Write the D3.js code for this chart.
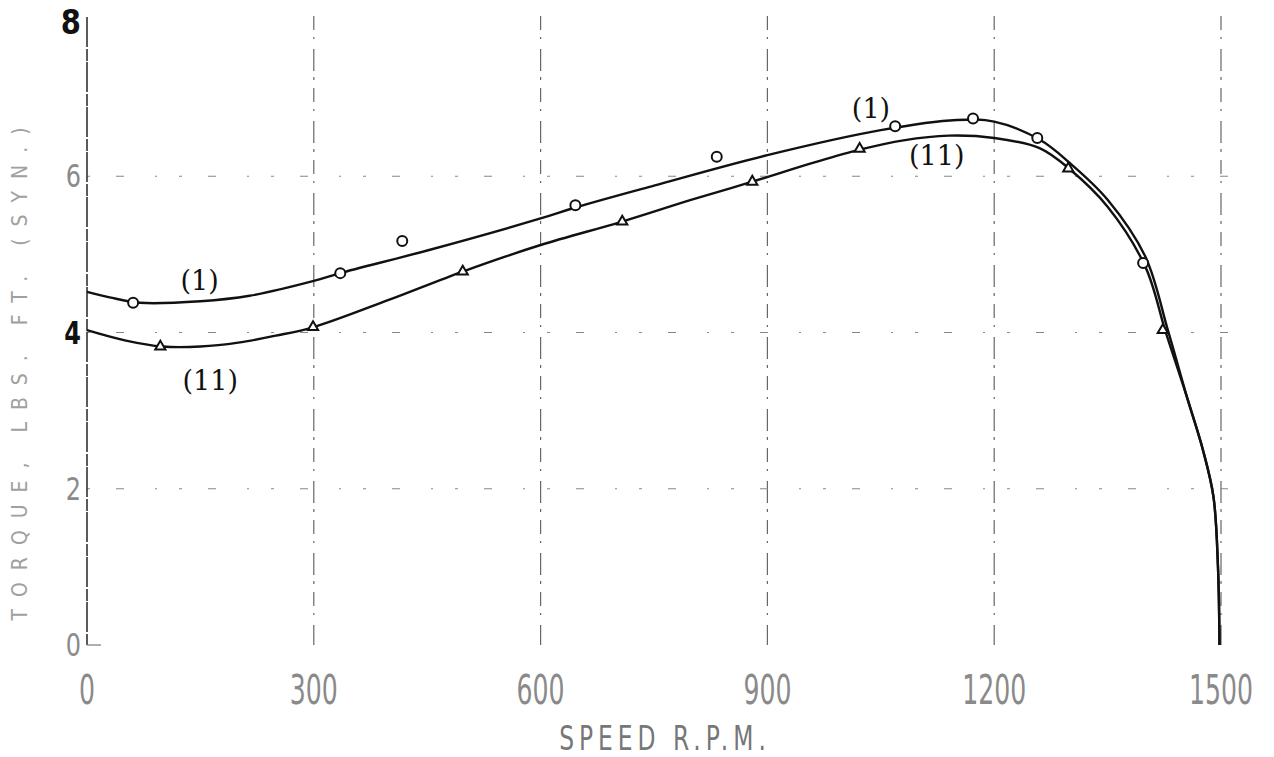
<!DOCTYPE html>
<html>
<head>
<meta charset="utf-8">
<script src="https://cdn.jsdelivr.net/npm/d3@7"></script>
<style>
  html, body { margin: 0; padding: 0; background: #fff; }
  svg { display: block; }
</style>
</head>
<body>
<svg id="chart" width="1274" height="757"></svg>
<script>
// Torque / speed characteristics of two motor runs, (1) and (11)
const xTicks = [0, 300, 600, 900, 1200, 1500];
const yTicks = [0, 2, 4, 6, 8];
const xTickLabels = ["0", "300", "600", "900", "1200", "1500"];
const yTickLabels = ["0", "2", "4", "6", "8"];

// faired curve through the readings, run (1)
const curve1Speed  = [0, 30, 70, 150, 215, 300, 335, 450, 600, 646, 750, 900, 1050, 1150, 1200, 1260, 1300, 1350, 1400, 1430, 1456, 1476, 1490, 1496, 1498];
const curve1Torque = [4.52, 4.45, 4.38, 4.40, 4.47, 4.66, 4.76, 5.05, 5.46, 5.60, 5.88, 6.27, 6.59, 6.72, 6.70, 6.47, 6.17, 5.70, 4.97, 4.02, 3.14, 2.50, 1.90, 1.00, 0.0];

// faired curve through the readings, run (11)
const curve2Speed  = [0, 50, 100, 150, 200, 250, 300, 400, 497, 600, 708, 800, 880, 960, 1022, 1080, 1140, 1200, 1260, 1300, 1350, 1400, 1427, 1456, 1476, 1490, 1496, 1498];
const curve2Torque = [4.03, 3.90, 3.82, 3.82, 3.87, 3.96, 4.07, 4.42, 4.78, 5.12, 5.42, 5.70, 5.93, 6.17, 6.34, 6.46, 6.52, 6.49, 6.36, 6.09, 5.61, 4.84, 4.00, 3.14, 2.50, 1.90, 1.00, 0.0];

// measured points
const points1Speed  = [61, 335, 417, 646, 833, 1069, 1172, 1257, 1397];
const points1Torque = [4.38, 4.76, 5.17, 5.63, 6.25, 6.64, 6.74, 6.49, 4.89];
const points2Speed  = [97, 299, 497, 708, 880, 1022, 1298, 1423];
const points2Torque = [3.82, 4.07, 4.78, 5.42, 5.93, 6.35, 6.10, 4.03];

const xTitle = "SPEED  R.P.M.";
const yTitle = "TORQUE, LBS. FT.  (SYN.)";

const svg = d3.select("#chart");
const x = d3.scaleLinear().domain([0, 1500]).range([87, 1221]);
const y = d3.scaleLinear().domain([0, 8]).range([645, 20]);

const ink = "#111";

// grid: faint broken lines
const grid = svg.append("g");
grid.selectAll("line.v").data(xTicks.slice(1)).join("line")
  .attr("x1", d => x(d)).attr("x2", d => x(d))
  .attr("y1", y(8) - 4).attr("y2", y(0))
  .attr("stroke", "#666").attr("stroke-width", 1.2)
  .attr("stroke-dasharray", "14 7 2 10 22 6 3 8");
grid.selectAll("line.h").data(yTicks.filter(d => d > 0 && d < 8)).join("line")
  .attr("x1", x(0)).attr("x2", x(1500) + 8)
  .attr("y1", d => y(d)).attr("y2", d => y(d))
  .attr("stroke", "#888").attr("stroke-width", 1.1)
  .attr("stroke-dasharray", "3 26 8 31 2 22");

// left axis
svg.append("line")
  .attr("x1", x(0)).attr("x2", x(0))
  .attr("y1", y(8) - 3).attr("y2", y(0))
  .attr("stroke", "#333").attr("stroke-width", 1.6)
  .attr("stroke-dasharray", "30 2 12 1");
svg.append("line")
  .attr("x1", x(0)).attr("x2", x(0) + 14)
  .attr("y1", y(0)).attr("y2", y(0))
  .attr("stroke", "#777").attr("stroke-width", 1.2);

// y tick labels (tall, hand-lettered look)
svg.append("g").selectAll("text").data(yTicks).join("text")
  .attr("transform", d => d === 8
    ? `translate(${x(0) - 6},${y(d) + 14}) scale(1,1.15)`
    : `translate(${x(0) - 6},${y(d) + 11}) scale(1,1.3)`)
  .attr("text-anchor", "end")
  .attr("font-family", "DejaVu Sans, sans-serif")
  .attr("font-size", d => d === 8 ? 29 : 24)
  .attr("font-weight", d => (d === 8 || d === 4) ? "bold" : "normal")
  .attr("fill", d => (d === 8 || d === 4) ? ink : "#8a8a8a")
  .text((d, i) => yTickLabels[i]);

// x tick labels
svg.append("g").selectAll("text").data(xTicks).join("text")
  .attr("transform", d => `translate(${x(d)},704) scale(1,1.45)`)
  .attr("text-anchor", "middle")
  .attr("font-family", "DejaVu Sans Condensed, DejaVu Sans, sans-serif")
  .attr("font-size", 28)
  .attr("font-weight", 200)
  .attr("fill", "#8a8a8a")
  .text((d, i) => xTickLabels[i]);

// axis titles
svg.append("text")
  .attr("transform", "translate(665,750) scale(1,1.3)")
  .attr("text-anchor", "middle")
  .attr("font-family", "DejaVu Sans Condensed, DejaVu Sans, sans-serif")
  .attr("font-size", 26)
  .attr("letter-spacing", 5)
  .attr("fill", "#777")
  .text(xTitle);
svg.append("text")
  .attr("transform", "translate(27,368) rotate(-90)")
  .attr("text-anchor", "middle")
  .attr("font-family", "DejaVu Sans Condensed, DejaVu Sans, sans-serif")
  .attr("font-size", 21)
  .attr("letter-spacing", 12)
  .attr("fill", "#a0a0a0")
  .text(yTitle);

// curves
const line = d3.line()
  .x(d => x(d[0])).y(d => y(d[1]))
  .curve(d3.curveCatmullRom.alpha(0.5));
const c1 = curve1Speed.map((s, i) => [s, curve1Torque[i]]);
const c2 = curve2Speed.map((s, i) => [s, curve2Torque[i]]);
svg.append("path").attr("d", line(c1))
  .attr("fill", "none").attr("stroke", ink).attr("stroke-width", 2.4);
svg.append("path").attr("d", line(c2))
  .attr("fill", "none").attr("stroke", ink).attr("stroke-width", 2.4);

// measured points, run (1): small rings
svg.append("g").selectAll("circle").data(points1Speed).join("circle")
  .attr("cx", d => x(d))
  .attr("cy", (d, i) => y(points1Torque[i]))
  .attr("r", 5)
  .attr("fill", "#fff").attr("stroke", ink).attr("stroke-width", 2);

// measured points, run (11): small triangles
svg.append("g").selectAll("path").data(points2Speed).join("path")
  .attr("transform", (d, i) => `translate(${x(d)},${y(points2Torque[i])})`)
  .attr("d", d3.symbol().type(d3.symbolTriangle).size(45))
  .attr("fill", "#fff").attr("stroke", ink).attr("stroke-width", 2);

// curve labels
const labels = [
  { t: "(1)",  s: 149,  v: 4.55 },
  { t: "(11)", s: 163,  v: 3.27 },
  { t: "(1)",  s: 1037, v: 6.75 },
  { t: "(11)", s: 1124, v: 6.14 }
];
svg.append("g").selectAll("text").data(labels).join("text")
  .attr("x", d => x(d.s))
  .attr("y", d => y(d.v))
  .attr("text-anchor", "middle")
  .attr("font-family", "DejaVu Serif, serif")
  .attr("font-size", 27)
  .attr("fill", ink)
  .text(d => d.t);
</script>
</body>
</html>
